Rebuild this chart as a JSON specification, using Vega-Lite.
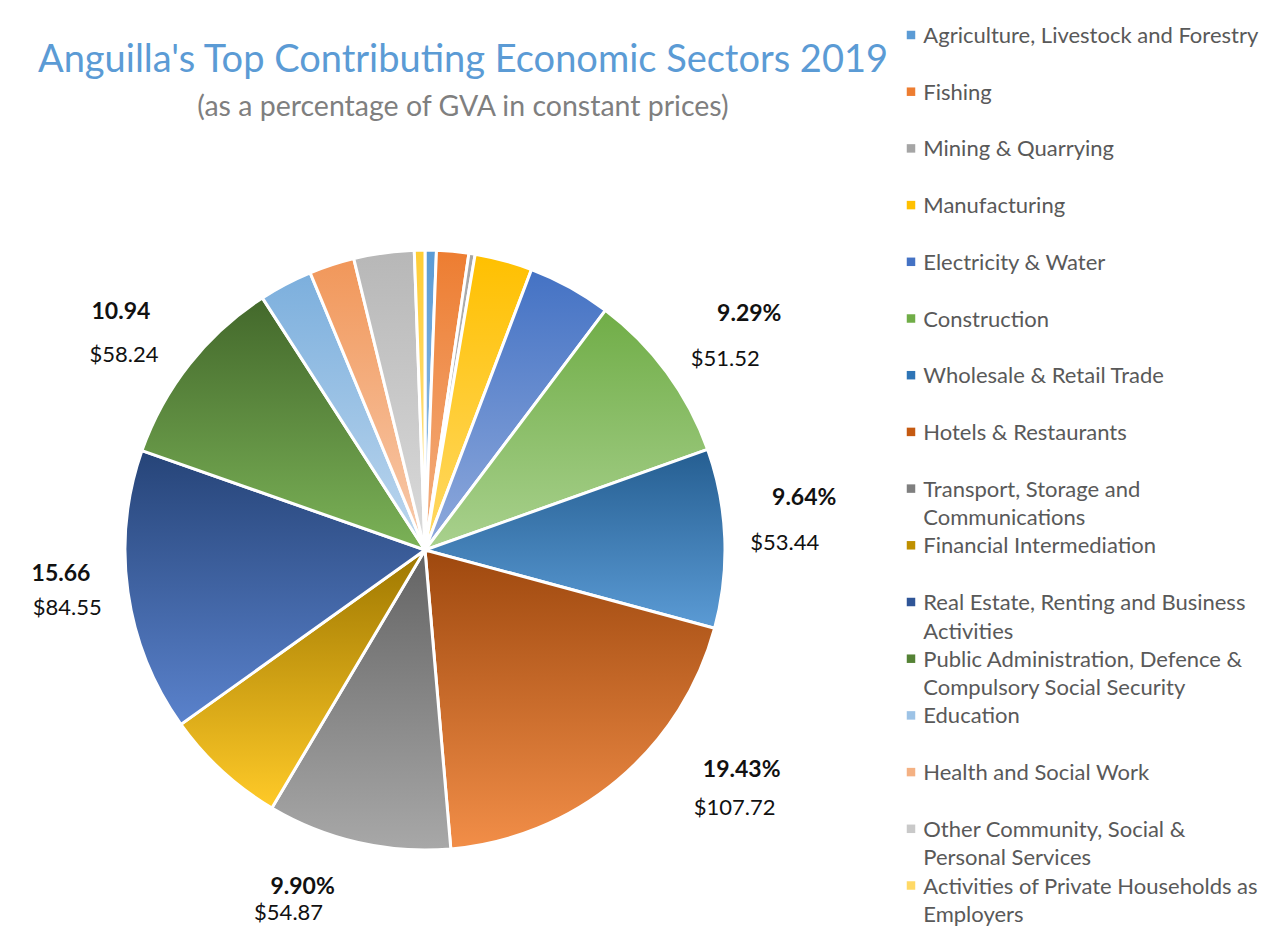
{
  "$schema": "https://vega.github.io/schema/vega-lite/v6.json",
  "autosize": {"type": "none"},
  "padding": {"left": 125, "top": 250, "right": 561, "bottom": 78},
  "width": 600,
  "height": 600,
  "background": "white",
  "title": {
    "text": "Anguilla's Top Contributing Economic Sectors 2019",
    "subtitle": "(as a percentage of GVA in constant prices)",
    "font": "Lato",
    "fontSize": 38,
    "fontWeight": "normal",
    "color": "#5B9BD5",
    "subtitleFont": "Lato",
    "subtitleFontSize": 28.5,
    "subtitleColor": "#7F7F7F",
    "subtitlePadding": 13,
    "anchor": "middle",
    "frame": "group",
    "dx": 38,
    "offset": -97
  },
  "data": {
    "values": [
      {"idx": 1, "sector": "Agriculture, Livestock and Forestry", "value": 3.38, "pct": "", "usd": ""},
      {"idx": 2, "sector": "Fishing", "value": 9.6, "pct": "", "usd": ""},
      {"idx": 3, "sector": "Mining & Quarrying", "value": 1.85, "pct": "", "usd": ""},
      {"idx": 4, "sector": "Manufacturing", "value": 17.2, "pct": "", "usd": ""},
      {"idx": 5, "sector": "Electricity & Water", "value": 24.9, "pct": "", "usd": ""},
      {"idx": 6, "sector": "Construction", "value": 51.52, "pct": "9.29%", "usd": "$51.52"},
      {"idx": 7, "sector": "Wholesale & Retail Trade", "value": 53.44, "pct": "9.64%", "usd": "$53.44"},
      {"idx": 8, "sector": "Hotels & Restaurants", "value": 107.72, "pct": "19.43%", "usd": "$107.72"},
      {"idx": 9, "sector": "Transport, Storage and Communications", "value": 54.87, "pct": "9.90%", "usd": "$54.87"},
      {"idx": 10, "sector": "Financial Intermediation", "value": 36.6, "pct": "", "usd": ""},
      {"idx": 11, "sector": "Real Estate, Renting and Business Activities", "value": 84.55, "pct": "15.66", "usd": "$84.55"},
      {"idx": 12, "sector": "Public Administration, Defence & Compulsory Social Security", "value": 58.24, "pct": "10.94", "usd": "$58.24"},
      {"idx": 13, "sector": "Education", "value": 15.9, "pct": "", "usd": ""},
      {"idx": 14, "sector": "Health and Social Work", "value": 13.5, "pct": "", "usd": ""},
      {"idx": 15, "sector": "Other Community, Social & Personal Services", "value": 18.0, "pct": "", "usd": ""},
      {"idx": 16, "sector": "Activities of Private Households as Employers", "value": 3.16, "pct": "", "usd": ""}
    ]
  },
  "transform": [
    {"stack": "value", "groupby": [], "sort": [{"field": "idx", "order": "ascending"}], "as": ["v0", "v1"]}
  ],
  "layer": [
    {
      "mark": {"type": "arc", "stroke": "white", "strokeWidth": 3},
      "encoding": {
        "theta": {"field": "v0", "type": "quantitative", "stack": null, "scale": {"zero": true, "nice": false}},
        "theta2": {"field": "v1"},
        "color": {
          "field": "sector",
          "type": "nominal",
          "scale": {
            "domain": [
              "Agriculture, Livestock and Forestry", "Fishing", "Mining & Quarrying", "Manufacturing",
              "Electricity & Water", "Construction", "Wholesale & Retail Trade", "Hotels & Restaurants",
              "Transport, Storage and Communications", "Financial Intermediation",
              "Real Estate, Renting and Business Activities",
              "Public Administration, Defence & Compulsory Social Security", "Education",
              "Health and Social Work", "Other Community, Social & Personal Services",
              "Activities of Private Households as Employers"
            ],
            "range": [
              "#5B9BD5", "#ED7D31", "#A5A5A5", "#FFC000", "#4472C4", "#70AD47", "#2E75B6", "#C55A11",
              "#7F7F7F", "#BF9000", "#2F5597", "#548235", "#9DC3E6", "#F4B183", "#C9C9C9", "#FFD966"
            ]
          },
          "legend": {
            "orient": "none",
            "legendX": 775,
            "legendY": -226,
            "title": null,
            "columns": 1,
            "gridAlign": "all",
            "padding": 0,
            "rowPadding": 4.7,
            "symbolType": "square",
            "symbolSize": 72,
            "symbolStrokeWidth": 0,
            "labelFont": "Lato",
            "labelFontSize": 22,
            "labelColor": "#595959",
            "labelLimit": 420,
            "labelOffset": 1.3,
            "labelBaseline": "alphabetic",
            "labelExpr": "datum.label == 'Transport, Storage and Communications' ? ['Transport, Storage and', 'Communications'] : datum.label == 'Real Estate, Renting and Business Activities' ? ['Real Estate, Renting and Business', 'Activities'] : datum.label == 'Public Administration, Defence & Compulsory Social Security' ? ['Public Administration, Defence &', 'Compulsory Social Security'] : datum.label == 'Other Community, Social & Personal Services' ? ['Other Community, Social &', 'Personal Services'] : datum.label == 'Activities of Private Households as Employers' ? ['Activities of Private Households as', 'Employers'] : datum.label"
          }
        }
      }
    },
    {"transform": [{"filter": "datum.idx == 1"}], "mark": {"type": "arc", "stroke": "white", "strokeWidth": 3, "fill": {"gradient": "linear", "x1": 0, "y1": 0, "x2": 0, "y2": 1, "stops": [{"offset": 0, "color": "#5B9BD5"}, {"offset": 1, "color": "#9DC3E6"}]}}, "encoding": {"theta": {"field": "v0", "type": "quantitative", "stack": null}, "theta2": {"field": "v1"}}},
    {"transform": [{"filter": "datum.idx == 2"}], "mark": {"type": "arc", "stroke": "white", "strokeWidth": 3, "fill": {"gradient": "linear", "x1": 0, "y1": 0, "x2": 0, "y2": 1, "stops": [{"offset": 0, "color": "#ED7D31"}, {"offset": 1, "color": "#F4B183"}]}}, "encoding": {"theta": {"field": "v0", "type": "quantitative", "stack": null}, "theta2": {"field": "v1"}}},
    {"transform": [{"filter": "datum.idx == 3"}], "mark": {"type": "arc", "stroke": "white", "strokeWidth": 3, "fill": {"gradient": "linear", "x1": 0, "y1": 0, "x2": 0, "y2": 1, "stops": [{"offset": 0, "color": "#A5A5A5"}, {"offset": 1, "color": "#C9C9C9"}]}}, "encoding": {"theta": {"field": "v0", "type": "quantitative", "stack": null}, "theta2": {"field": "v1"}}},
    {"transform": [{"filter": "datum.idx == 4"}], "mark": {"type": "arc", "stroke": "white", "strokeWidth": 3, "fill": {"gradient": "linear", "x1": 0, "y1": 0, "x2": 0, "y2": 1, "stops": [{"offset": 0, "color": "#FFC000"}, {"offset": 1, "color": "#FFD966"}]}}, "encoding": {"theta": {"field": "v0", "type": "quantitative", "stack": null}, "theta2": {"field": "v1"}}},
    {"transform": [{"filter": "datum.idx == 5"}], "mark": {"type": "arc", "stroke": "white", "strokeWidth": 3, "fill": {"gradient": "linear", "x1": 0, "y1": 0, "x2": 0, "y2": 1, "stops": [{"offset": 0, "color": "#4472C4"}, {"offset": 1, "color": "#8FAADC"}]}}, "encoding": {"theta": {"field": "v0", "type": "quantitative", "stack": null}, "theta2": {"field": "v1"}}},
    {"transform": [{"filter": "datum.idx == 6"}], "mark": {"type": "arc", "stroke": "white", "strokeWidth": 3, "fill": {"gradient": "linear", "x1": 0, "y1": 0, "x2": 0, "y2": 1, "stops": [{"offset": 0, "color": "#70AD47"}, {"offset": 1, "color": "#A9D18E"}]}}, "encoding": {"theta": {"field": "v0", "type": "quantitative", "stack": null}, "theta2": {"field": "v1"}}},
    {"transform": [{"filter": "datum.idx == 7"}], "mark": {"type": "arc", "stroke": "white", "strokeWidth": 3, "fill": {"gradient": "linear", "x1": 0, "y1": 0, "x2": 0, "y2": 1, "stops": [{"offset": 0, "color": "#255E91"}, {"offset": 1, "color": "#5B9BD5"}]}}, "encoding": {"theta": {"field": "v0", "type": "quantitative", "stack": null}, "theta2": {"field": "v1"}}},
    {"transform": [{"filter": "datum.idx == 8"}], "mark": {"type": "arc", "stroke": "white", "strokeWidth": 3, "fill": {"gradient": "linear", "x1": 0, "y1": 0, "x2": 0, "y2": 1, "stops": [{"offset": 0, "color": "#9E480E"}, {"offset": 1, "color": "#F28E48"}]}}, "encoding": {"theta": {"field": "v0", "type": "quantitative", "stack": null}, "theta2": {"field": "v1"}}},
    {"transform": [{"filter": "datum.idx == 9"}], "mark": {"type": "arc", "stroke": "white", "strokeWidth": 3, "fill": {"gradient": "linear", "x1": 0, "y1": 0, "x2": 0, "y2": 1, "stops": [{"offset": 0, "color": "#636363"}, {"offset": 1, "color": "#A8A8A8"}]}}, "encoding": {"theta": {"field": "v0", "type": "quantitative", "stack": null}, "theta2": {"field": "v1"}}},
    {"transform": [{"filter": "datum.idx == 10"}], "mark": {"type": "arc", "stroke": "white", "strokeWidth": 3, "fill": {"gradient": "linear", "x1": 0, "y1": 0, "x2": 0, "y2": 1, "stops": [{"offset": 0, "color": "#9E7700"}, {"offset": 1, "color": "#FFCA28"}]}}, "encoding": {"theta": {"field": "v0", "type": "quantitative", "stack": null}, "theta2": {"field": "v1"}}},
    {"transform": [{"filter": "datum.idx == 11"}], "mark": {"type": "arc", "stroke": "white", "strokeWidth": 3, "fill": {"gradient": "linear", "x1": 0, "y1": 0, "x2": 0, "y2": 1, "stops": [{"offset": 0, "color": "#264478"}, {"offset": 1, "color": "#5A82CC"}]}}, "encoding": {"theta": {"field": "v0", "type": "quantitative", "stack": null}, "theta2": {"field": "v1"}}},
    {"transform": [{"filter": "datum.idx == 12"}], "mark": {"type": "arc", "stroke": "white", "strokeWidth": 3, "fill": {"gradient": "linear", "x1": 0, "y1": 0, "x2": 0, "y2": 1, "stops": [{"offset": 0, "color": "#43682B"}, {"offset": 1, "color": "#7BB257"}]}}, "encoding": {"theta": {"field": "v0", "type": "quantitative", "stack": null}, "theta2": {"field": "v1"}}},
    {"transform": [{"filter": "datum.idx == 13"}], "mark": {"type": "arc", "stroke": "white", "strokeWidth": 3, "fill": {"gradient": "linear", "x1": 0, "y1": 0, "x2": 0, "y2": 1, "stops": [{"offset": 0, "color": "#7CAFDD"}, {"offset": 1, "color": "#BDD7EE"}]}}, "encoding": {"theta": {"field": "v0", "type": "quantitative", "stack": null}, "theta2": {"field": "v1"}}},
    {"transform": [{"filter": "datum.idx == 14"}], "mark": {"type": "arc", "stroke": "white", "strokeWidth": 3, "fill": {"gradient": "linear", "x1": 0, "y1": 0, "x2": 0, "y2": 1, "stops": [{"offset": 0, "color": "#F1975A"}, {"offset": 1, "color": "#F8CBAD"}]}}, "encoding": {"theta": {"field": "v0", "type": "quantitative", "stack": null}, "theta2": {"field": "v1"}}},
    {"transform": [{"filter": "datum.idx == 15"}], "mark": {"type": "arc", "stroke": "white", "strokeWidth": 3, "fill": {"gradient": "linear", "x1": 0, "y1": 0, "x2": 0, "y2": 1, "stops": [{"offset": 0, "color": "#B7B7B7"}, {"offset": 1, "color": "#DBDBDB"}]}}, "encoding": {"theta": {"field": "v0", "type": "quantitative", "stack": null}, "theta2": {"field": "v1"}}},
    {"transform": [{"filter": "datum.idx == 16"}], "mark": {"type": "arc", "stroke": "white", "strokeWidth": 3, "fill": {"gradient": "linear", "x1": 0, "y1": 0, "x2": 0, "y2": 1, "stops": [{"offset": 0, "color": "#FFCD33"}, {"offset": 1, "color": "#FFE699"}]}}, "encoding": {"theta": {"field": "v0", "type": "quantitative", "stack": null}, "theta2": {"field": "v1"}}},
    {"mark": {"type": "text", "radius": 372, "font": "Lato", "fontSize": 23, "fontWeight": "bold", "color": "#111111", "dx": 24.5, "dy": -16},
     "encoding": {"theta": {"field": "value", "type": "quantitative", "stack": true}, "order": {"field": "idx", "type": "quantitative"}, "detail": {"field": "idx", "type": "nominal"},
       "text": {"condition": {"test": "datum.idx == 6", "field": "pct", "type": "nominal"}, "value": ""}}},
    {"mark": {"type": "text", "radius": 372, "font": "Lato", "fontSize": 22, "color": "#111111", "dx": 0.5, "dy": 29},
     "encoding": {"theta": {"field": "value", "type": "quantitative", "stack": true}, "order": {"field": "idx", "type": "quantitative"}, "detail": {"field": "idx", "type": "nominal"},
       "text": {"condition": {"test": "datum.idx == 6", "field": "usd", "type": "nominal"}, "value": ""}}},
    {"mark": {"type": "text", "radius": 372, "font": "Lato", "fontSize": 23, "fontWeight": "bold", "color": "#111111", "dx": 7.5, "dy": -38},
     "encoding": {"theta": {"field": "value", "type": "quantitative", "stack": true}, "order": {"field": "idx", "type": "quantitative"}, "detail": {"field": "idx", "type": "nominal"},
       "text": {"condition": {"test": "datum.idx == 7", "field": "pct", "type": "nominal"}, "value": ""}}},
    {"mark": {"type": "text", "radius": 372, "font": "Lato", "fontSize": 22, "color": "#111111", "dx": -12, "dy": 7},
     "encoding": {"theta": {"field": "value", "type": "quantitative", "stack": true}, "order": {"field": "idx", "type": "quantitative"}, "detail": {"field": "idx", "type": "nominal"},
       "text": {"condition": {"test": "datum.idx == 7", "field": "usd", "type": "nominal"}, "value": ""}}},
    {"mark": {"type": "text", "radius": 372, "font": "Lato", "fontSize": 23, "fontWeight": "bold", "color": "#111111", "dx": 78, "dy": -65},
     "encoding": {"theta": {"field": "value", "type": "quantitative", "stack": true}, "order": {"field": "idx", "type": "quantitative"}, "detail": {"field": "idx", "type": "nominal"},
       "text": {"condition": {"test": "datum.idx == 8", "field": "pct", "type": "nominal"}, "value": ""}}},
    {"mark": {"type": "text", "radius": 372, "font": "Lato", "fontSize": 22, "color": "#111111", "dx": 71, "dy": -27},
     "encoding": {"theta": {"field": "value", "type": "quantitative", "stack": true}, "order": {"field": "idx", "type": "quantitative"}, "detail": {"field": "idx", "type": "nominal"},
       "text": {"condition": {"test": "datum.idx == 8", "field": "usd", "type": "nominal"}, "value": ""}}},
    {"mark": {"type": "text", "radius": 372, "font": "Lato", "fontSize": 23, "fontWeight": "bold", "color": "#111111", "dx": -39.5, "dy": -25.5},
     "encoding": {"theta": {"field": "value", "type": "quantitative", "stack": true}, "order": {"field": "idx", "type": "quantitative"}, "detail": {"field": "idx", "type": "nominal"},
       "text": {"condition": {"test": "datum.idx == 9", "field": "pct", "type": "nominal"}, "value": ""}}},
    {"mark": {"type": "text", "radius": 372, "font": "Lato", "fontSize": 22, "color": "#111111", "dx": -53.5, "dy": 0.5},
     "encoding": {"theta": {"field": "value", "type": "quantitative", "stack": true}, "order": {"field": "idx", "type": "quantitative"}, "detail": {"field": "idx", "type": "nominal"},
       "text": {"condition": {"test": "datum.idx == 9", "field": "usd", "type": "nominal"}, "value": ""}}},
    {"mark": {"type": "text", "radius": 372, "font": "Lato", "fontSize": 23, "fontWeight": "bold", "color": "#111111", "dx": 4.3, "dy": -28.5},
     "encoding": {"theta": {"field": "value", "type": "quantitative", "stack": true}, "order": {"field": "idx", "type": "quantitative"}, "detail": {"field": "idx", "type": "nominal"},
       "text": {"condition": {"test": "datum.idx == 11", "field": "pct", "type": "nominal"}, "value": ""}}},
    {"mark": {"type": "text", "radius": 372, "font": "Lato", "fontSize": 22, "color": "#111111", "dx": 10.5, "dy": 6},
     "encoding": {"theta": {"field": "value", "type": "quantitative", "stack": true}, "order": {"field": "idx", "type": "quantitative"}, "detail": {"field": "idx", "type": "nominal"},
       "text": {"condition": {"test": "datum.idx == 11", "field": "usd", "type": "nominal"}, "value": ""}}},
    {"mark": {"type": "text", "radius": 372, "font": "Lato", "fontSize": 23, "fontWeight": "bold", "color": "#111111", "dx": -12, "dy": -8},
     "encoding": {"theta": {"field": "value", "type": "quantitative", "stack": true}, "order": {"field": "idx", "type": "quantitative"}, "detail": {"field": "idx", "type": "nominal"},
       "text": {"condition": {"test": "datum.idx == 12", "field": "pct", "type": "nominal"}, "value": ""}}},
    {"mark": {"type": "text", "radius": 372, "font": "Lato", "fontSize": 22, "color": "#111111", "dx": -9, "dy": 35},
     "encoding": {"theta": {"field": "value", "type": "quantitative", "stack": true}, "order": {"field": "idx", "type": "quantitative"}, "detail": {"field": "idx", "type": "nominal"},
       "text": {"condition": {"test": "datum.idx == 12", "field": "usd", "type": "nominal"}, "value": ""}}}
  ],
  "config": {
    "view": {"stroke": null},
    "font": "Lato",
    "style": {"guide-label": {"dy": 8, "lineHeight": 28.7}}
  }
}
